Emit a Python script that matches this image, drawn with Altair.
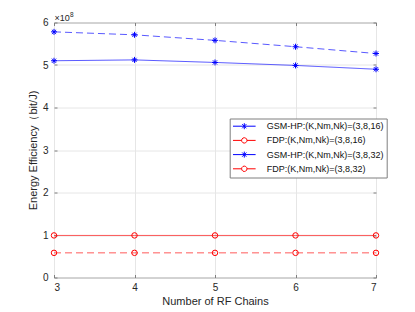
import altair as alt
import pandas as pd

# ---- data (energy efficiency in units of 1e8 bit/J) ----
rf_chains = [3, 4, 5, 6, 7]
series_names = [
    "GSM-HP:(K,Nm,Nk)=(3,8,16)",
    "FDP:(K,Nm,Nk)=(3,8,16)",
    "GSM-HP:(K,Nm,Nk)=(3,8,32)",
    "FDP:(K,Nm,Nk)=(3,8,32)",
]
gsm_16 = [5.10, 5.12, 5.06, 4.99, 4.90]
fdp_16 = [0.99, 0.99, 0.99, 0.99, 0.99]
gsm_32 = [5.78, 5.71, 5.58, 5.43, 5.27]
fdp_32 = [0.58, 0.58, 0.58, 0.58, 0.58]
series_values = [gsm_16, fdp_16, gsm_32, fdp_32]
y_ticks = [0, 1, 2, 3, 4, 5, 6]
exp_base = ["×10"]
exp_power = ["8"]

# ---- styles ----
series_colors = ["#0000ff", "#ff0000", "#0000ff", "#ff0000"]
series_dash = [[1, 0], [1, 0], [7, 4], [7, 4]]
STAR = "M0,-1V1M-1,0H1M-0.7,-0.7L0.7,0.7M-0.7,0.7L0.7,-0.7"
series_marker = [STAR, "circle", STAR, "circle"]
LEG_STAR = "M-3.77,0L3.77,0M0,-1L0,1M-0.7,-0.7L0.7,0.7M-0.7,0.7L0.7,-0.7"
LEG_CIRC = ("M-3.77,0L-0.9,0M0.9,0L3.77,0"
            "M0.9,0L0.779,0.45L0.45,0.779L0,0.9L-0.45,0.779L-0.779,0.45"
            "L-0.9,0L-0.779,-0.45L-0.45,-0.779L0,-0.9L0.45,-0.779"
            "L0.779,-0.45L0.9,0")
legend_shapes = [LEG_STAR, LEG_CIRC, LEG_STAR, LEG_CIRC]

FONT = "Liberation Sans"
FRAME = "#7f7f7f"
TXT = "#262626"

rows = []
for name, vals in zip(series_names, series_values):
    for x, v in zip(rf_chains, vals):
        rows.append({"series": name, "rf": x, "ee": v})
df = pd.DataFrame(rows)

x_scale = alt.Scale(domain=[3, 7], nice=False)
y_scale = alt.Scale(domain=[0, 6], nice=False)

x_axis_main = alt.Axis(
    orient="bottom", values=rf_chains, format="d", title="Number of RF Chains",
    grid=True, gridColor="#e6e6e6", domain=False, tickSize=3, offset=-3,
    tickColor=FRAME, labelPadding=5, titlePadding=3, labelFontSize=10,
    titleFontSize=11, labelFont=FONT, titleFont=FONT, labelColor=TXT,
    titleColor=TXT, titleFontWeight="normal")
y_axis_main = alt.Axis(
    orient="left", values=y_ticks, format="d", title="Energy Efficiency（bit/J)",
    grid=True, gridColor="#e6e6e6", domain=False, tickSize=3, offset=-3,
    tickColor=FRAME, labelPadding=6, titlePadding=4, labelFontSize=10,
    titleFontSize=11, labelFont=FONT, titleFont=FONT, labelColor=TXT,
    titleColor=TXT, titleFontWeight="normal")
x_axis_top = alt.Axis(
    orient="top", values=rf_chains, labels=False, title=None, grid=False,
    domain=False, tickSize=3, offset=-3, tickColor=FRAME)
y_axis_right = alt.Axis(
    orient="right", values=y_ticks, labels=False, title=None, grid=False,
    domain=False, tickSize=3, offset=-3, tickColor=FRAME)

layers = []
for i, name in enumerate(series_names):
    sub = alt.Chart(df).transform_filter(alt.datum.series == name)
    if i == 0:
        xa, ya = x_axis_main, y_axis_main
    elif i == 1:
        xa, ya = x_axis_top, y_axis_right
    else:
        xa, ya = None, None
    line = sub.mark_line(
        color=series_colors[i], strokeWidth=1, opacity=0.65,
        strokeDash=series_dash[i]
    ).encode(
        x=alt.X("rf:Q", scale=x_scale, axis=xa),
        y=alt.Y("ee:Q", scale=y_scale, axis=ya),
    )
    pts = sub.mark_point(
        shape=series_marker[i], color=series_colors[i], filled=False,
        size=36 if series_marker[i] == STAR else 30, strokeWidth=1, opacity=1
    ).encode(
        x=alt.X("rf:Q", scale=x_scale, axis=None),
        y=alt.Y("ee:Q", scale=y_scale, axis=None),
    )
    layers += [line, pts]

legend = alt.Legend(
    title=None, orient="none", legendX=175.7, legendY=96,
    strokeColor=FRAME, fillColor="white", padding=3.2, rowPadding=3.2,
    labelFontSize=9, labelFont=FONT, labelColor="#111", labelOffset=17.9,
    labelAlign="left", columns=1, direction="vertical",
    symbolOffset=6.9, symbolSize=36, symbolStrokeWidth=1,
    symbolFillColor="transparent", symbolOpacity=1, labelLimit=300)

leg_df = pd.DataFrame({"series": series_names})
leg_layer = alt.Chart(leg_df).mark_point(filled=False, opacity=0).encode(
    color=alt.Color("series:N", scale=alt.Scale(domain=series_names,
                    range=series_colors), legend=legend),
    shape=alt.Shape("series:N", scale=alt.Scale(domain=series_names,
                    range=legend_shapes), legend=legend),
)
layers.append(leg_layer)

# exponent annotation above the y axis
base_txt = alt.Chart(pd.DataFrame({"t": exp_base})).mark_text(
    align="left", baseline="alphabetic", fontSize=9, font=FONT, color=TXT
).encode(text="t:N", x=alt.value(0.5), y=alt.value(-1.5))
pow_txt = alt.Chart(pd.DataFrame({"t": exp_power})).mark_text(
    align="left", baseline="alphabetic", fontSize=6.5, font=FONT, color=TXT
).encode(text="t:N", x=alt.value(16), y=alt.value(-5.8))
layers += [base_txt, pow_txt]

chart = alt.layer(*layers).resolve_axis(
    x="independent", y="independent"
).properties(
    width=322, height=255,
    autosize=alt.AutoSizeParams(type="none"),
    padding={"left": 46, "top": 14.5, "right": 30, "bottom": 34},
).configure_view(stroke=FRAME, strokeWidth=1)

chart.save("out.html", embed_options={"renderer": "svg", "actions": False})
